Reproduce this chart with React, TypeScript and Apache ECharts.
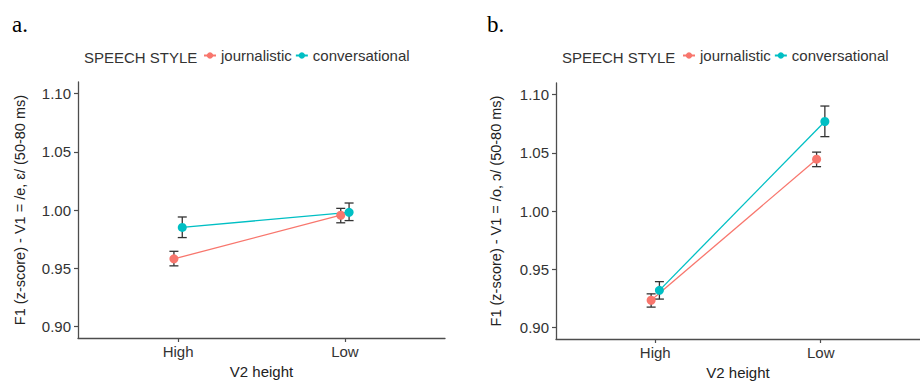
import React, { useEffect, useRef } from "react";
import * as echarts from "echarts";

const categories = ["High", "Low"];
const yTicks = [0.9, 0.95, 1.0, 1.05, 1.1];
const seriesNames = ["journalistic", "conversational"];
const seriesColors = ["#F8766D", "#00BFC4"];

// Panel a: V1 = /e, ɛ/
const journalisticA = [0.958, 0.9955];
const journalisticALow = [0.952, 0.989];
const journalisticAHigh = [0.9645, 1.0014];
const conversationalA = [0.985, 0.998];
const conversationalALow = [0.9763, 0.9909];
const conversationalAHigh = [0.994, 1.006];

// Panel b: V1 = /o, ɔ/
const journalisticB = [0.9233, 1.0445];
const journalisticBLow = [0.9174, 1.0381];
const journalisticBHigh = [0.9288, 1.0506];
const conversationalB = [0.9318, 1.0769];
const conversationalBLow = [0.9243, 1.0639];
const conversationalBHigh = [0.9393, 1.0902];

const dodge = 0.025;
const FONT = "Liberation Sans, Arial, sans-serif";
const AXIS_COLOR = "#4d4d4d";
const TEXT_COLOR = "#333333";

function App() {
  const ref = useRef<HTMLDivElement>(null);
  useEffect(() => {
    if (!ref.current) return;
    const chart = echarts.init(ref.current, undefined, { renderer: "svg" });

    const panels = [
      {
        mean: [journalisticA, conversationalA],
        lo: [journalisticALow, conversationalALow],
        hi: [journalisticAHigh, conversationalAHigh],
        yName: "F1 (z-score) - V1 = /e, ɛ/ (50-80 ms)",
      },
      {
        mean: [journalisticB, conversationalB],
        lo: [journalisticBLow, conversationalBLow],
        hi: [journalisticBHigh, conversationalBHigh],
        yName: "F1 (z-score) - V1 = /o, ɔ/ (50-80 ms)",
      },
    ];

    const grids = [
      { left: 78, right: 475, top: 82, bottom: 47 },
      { left: 556, right: -11, top: 83, bottom: 40 },
    ];

    const xAxes = grids.map((_, i) => ({
      type: "value",
      gridIndex: i,
      min: 0.4,
      max: 2.6,
      name: "V2 height",
      nameLocation: "middle",
      nameGap: i === 0 ? 23 : 26,
      nameTextStyle: { fontFamily: FONT, fontSize: 15, color: "#222" },
      axisLine: { show: true, lineStyle: { color: AXIS_COLOR, width: 1.3 } },
      axisTick: {
        show: true,
        customValues: [1, 2],
        length: 4,
        lineStyle: { color: AXIS_COLOR, width: 1.2 },
      },
      axisLabel: {
        customValues: [1, 2],
        formatter: (v: number) => categories[Math.round(v) - 1] ?? "",
        fontFamily: FONT,
        fontSize: 15,
        color: TEXT_COLOR,
        margin: 6,
      },
      splitLine: { show: false },
    }));

    const yAxes = grids.map((_, i) => ({
      type: "value",
      gridIndex: i,
      min: 0.89,
      max: 1.11,
      name: panels[i].yName,
      nameLocation: "middle",
      nameGap: i === 0 ? 51 : 53,
      nameTextStyle: { fontFamily: FONT, fontSize: 14.5, color: "#222" },
      axisLine: { show: true, lineStyle: { color: AXIS_COLOR, width: 1.3 } },
      axisTick: {
        show: true,
        customValues: yTicks,
        length: 4,
        lineStyle: { color: AXIS_COLOR, width: 1.2 },
      },
      axisLabel: {
        customValues: yTicks,
        formatter: (v: number) => v.toFixed(2),
        fontFamily: FONT,
        fontSize: 15,
        color: TEXT_COLOR,
        margin: 7,
      },
      splitLine: { show: false },
    }));

    const series: any[] = [];
    panels.forEach((p, pi) => {
      seriesNames.forEach((name, si) => {
        const off = si === 0 ? -dodge : dodge;
        const ebData = categories.map((_, ci) => [ci + 1 + off, p.lo[si][ci], p.hi[si][ci]]);
        series.push({
          type: "custom",
          name: name + " error",
          xAxisIndex: pi,
          yAxisIndex: pi,
          z: 2,
          silent: true,
          data: ebData,
          renderItem: (params: any, api: any) => {
            const x = api.value(0);
            const top = api.coord([x, api.value(2)]);
            const bot = api.coord([x, api.value(1)]);
            const w = 4.5;
            const style = { stroke: "#333333", lineWidth: 1.3 };
            return {
              type: "group",
              children: [
                { type: "line", shape: { x1: top[0], y1: top[1], x2: bot[0], y2: bot[1] }, style },
                { type: "line", shape: { x1: top[0] - w, y1: top[1], x2: top[0] + w, y2: top[1] }, style },
                { type: "line", shape: { x1: bot[0] - w, y1: bot[1], x2: bot[0] + w, y2: bot[1] }, style },
              ],
            };
          },
        });
        series.push({
          type: "line",
          name,
          xAxisIndex: pi,
          yAxisIndex: pi,
          z: 3,
          symbol: "circle",
          symbolSize: 9,
          showSymbol: true,
          color: seriesColors[si],
          lineStyle: { color: seriesColors[si], width: 1.3 },
          itemStyle: { color: seriesColors[si] },
          data: categories.map((_, ci) => [ci + 1 + off, p.mean[si][ci]]),
        });
      });
    });

    const legendBase = {
      data: seriesNames,
      orient: "horizontal",
      itemWidth: 12,
      itemHeight: 8,
      itemGap: 3,
      top: 43,
      textStyle: { fontFamily: FONT, fontSize: 15, color: TEXT_COLOR },
      selectedMode: false,
    };

    chart.setOption({
      animation: false,
      backgroundColor: "#ffffff",
      grid: grids,
      xAxis: xAxes,
      yAxis: yAxes,
      legend: [
        { ...legendBase, left: 198 },
        { ...legendBase, left: 677 },
      ],
      graphic: [
        {
          type: "text",
          left: 12,
          top: 13,
          style: { text: "a.", font: "23px 'Liberation Serif', 'Times New Roman', serif", fill: "#000" },
        },
        {
          type: "text",
          left: 487,
          top: 13,
          style: { text: "b.", font: "23px 'Liberation Serif', 'Times New Roman', serif", fill: "#000" },
        },
        {
          type: "text",
          left: 84,
          top: 50,
          style: { text: "SPEECH STYLE", font: "15px " + FONT, fill: TEXT_COLOR },
        },
        {
          type: "text",
          left: 562,
          top: 50,
          style: { text: "SPEECH STYLE", font: "15px " + FONT, fill: TEXT_COLOR },
        },
      ],
      series,
    });

    return () => chart.dispose();
  }, []);

  return (
    <div
      ref={ref}
      style={{ position: "absolute", left: 0, top: 0, width: 920, height: 385, background: "#fff" }}
    />
  );
}

export default App;
